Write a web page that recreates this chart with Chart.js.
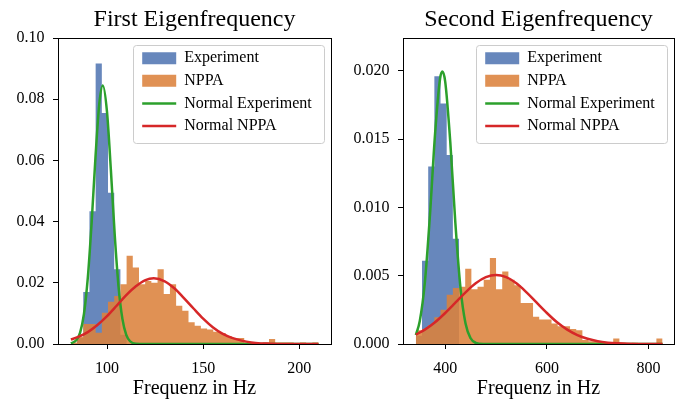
<!DOCTYPE html>
<html lang="de">
<head>
    <meta charset="UTF-8">
    <title>Eigenfrequenzen</title>
    <script src="https://cdn.jsdelivr.net/npm/chart.js"></script>
    <style>
        html, body { margin: 0; padding: 0; background: #fff; }
        body { width: 685px; height: 405px; position: relative; overflow: hidden; }
        .panel { position: absolute; top: 0; height: 405px; }
        #p1 { left: 0; width: 342px; }
        #p2 { left: 342px; width: 343px; }
    </style>
</head>
<body>
    <div class="panel" id="p1"><canvas id="c1" width="342" height="405"></canvas></div>
    <div class="panel" id="p2"><canvas id="c2" width="343" height="405"></canvas></div>
    <script>
        // Histogramm-Klassen (40 gleich breite Klassen, Hz)
        const bins1Start = 81.2, bins1Width = 3.22;
        const bins2Start = 342.3, bins2Width = 12.13;

        // Dichte je Klasse, erste Eigenfrequenz
        const exp1 = [0, 0.002, 0.017, 0.0434, 0.0917, 0.0755, 0.0494, 0.0244, 0.003, 0,
                      0, 0, 0, 0, 0, 0, 0, 0, 0, 0,
                      0, 0, 0, 0, 0, 0, 0, 0, 0, 0,
                      0, 0, 0, 0, 0, 0, 0, 0, 0, 0];
        const nppa1 = [0.0005, 0.0023, 0.0065, 0.0065, 0.0037, 0.0102, 0.0138, 0.0157, 0.0195, 0.0288,
                       0.025, 0.0195, 0.0206, 0.020, 0.0244, 0.0163, 0.0195, 0.0125, 0.0109, 0.0071,
                       0.006, 0.0051, 0.0047, 0.004, 0.0036, 0.0025, 0.002, 0.002, 0.0005, 0.0005,
                       0, 0.0005, 0.0016, 0.0005, 0.0005, 0.0005, 0, 0.0005, 0, 0.0005];

        // Dichte je Klasse, zweite Eigenfrequenz
        const exp2 = [0.0006, 0.0061, 0.013, 0.0196, 0.0176, 0.01384, 0.0077, 0, 0, 0,
                      0, 0, 0, 0, 0, 0, 0, 0, 0, 0,
                      0, 0, 0, 0, 0, 0, 0, 0, 0, 0,
                      0, 0, 0, 0, 0, 0, 0, 0, 0, 0];
        const nppa2 = [0.001, 0.0011, 0.0014, 0.00195, 0.0025, 0.0036, 0.0041, 0.0042, 0.0055, 0.0040,
                       0.0042, 0.0047, 0.0063, 0.0040, 0.0053, 0.0047, 0.0043, 0.0030, 0.0030, 0.0020,
                       0.0018, 0.0018, 0.0015, 0.0013, 0.0013, 0.0011, 0.0010, 0.0003, 0.0002, 0.0002,
                       0.0001, 0.0001, 0.0004, 0.0001, 0, 0.0001, 0, 0, 0, 0.0004];

        // Normalverteilungen
        const normExp1X = [81.2, 84, 86, 88, 90, 92, 94, 96, 97.8, 100, 102, 104, 106, 108, 110, 112, 115, 120, 130, 150, 180, 210];
        const normExp1Y = [0.0002, 0.0012, 0.0037, 0.0098, 0.0216, 0.0397, 0.0611, 0.0786, 0.0845, 0.0758, 0.0569, 0.0357, 0.0187, 0.0082, 0.0030, 0.0009, 0.0001, 0, 0, 0, 0, 0];
        const normNppa1X = [81.2, 85, 90, 95, 100, 105, 110, 115, 120, 124.3, 130, 135, 140, 145, 150, 155, 160, 165, 170, 175, 180, 185, 190, 200, 210];
        const normNppa1Y = [0.00146, 0.0023, 0.0039, 0.0062, 0.0091, 0.0125, 0.0160, 0.0189, 0.0209, 0.02145, 0.0205, 0.0182, 0.0150, 0.0116, 0.0083, 0.0055, 0.0034, 0.0020, 0.0011, 0.0005, 0.0002, 0.0001, 0, 0, 0];

        const normExp2X = [342.3, 350, 360, 370, 380, 390, 394.5, 400, 410, 420, 430, 440, 450, 460, 475, 500, 600, 700, 827.5];
        const normExp2Y = [0.00066, 0.00168, 0.00451, 0.00942, 0.01534, 0.01945, 0.01995, 0.01921, 0.01478, 0.00885, 0.00413, 0.0015, 0.00042, 0.00009, 0, 0, 0, 0, 0];
        const normNppa2X = [342.3, 360, 380, 400, 420, 440, 460, 480, 500, 520, 540, 560, 580, 600, 620, 640, 660, 680, 700, 720, 740, 760, 790, 827.5];
        const normNppa2Y = [0.00069, 0.00105, 0.00159, 0.00227, 0.00302, 0.00378, 0.00444, 0.00489, 0.00505, 0.00489, 0.00444, 0.00378, 0.00302, 0.00227, 0.00159, 0.00105, 0.00065, 0.00038, 0.0002, 0.0001, 0.00005, 0.00002, 0, 0];

        const serif = "'Liberation Serif', 'Times New Roman', serif";
        Chart.defaults.font.family = serif;
        Chart.defaults.color = '#000';

        const BLUE = 'rgba(76, 114, 176, 0.85)';
        const ORANGE = 'rgba(220, 130, 60, 0.88)';
        const GREEN = '#2ca02c';
        const RED = '#d62728';

        // Treppenlinie über die Klassengrenzen, gefüllt bis zur Nulllinie
        function histo(start, width, values) {
            const pts = values.map((v, k) => ({ x: start + width * k, y: v }));
            pts.push({ x: start + width * values.length, y: values[values.length - 1] });
            return pts;
        }
        function curve(xs, ys) {
            return xs.map((x, i) => ({ x: x, y: ys[i] }));
        }

        // Legendenrahmen wie bei matplotlib, rechts oben im Diagramm
        function legendFrame(a) {
            return { x: a.right - 7 - 191, y: a.top + 7, w: 191, h: 98 };
        }

        const axesPlugin = {
            id: 'axesFrame',
            afterUpdate(chart) {
                const lg = chart.legend;
                const f = legendFrame(chart.chartArea);
                lg.left = f.x + 2.6;
                lg.right = f.x + f.w;
                lg.width = lg.right - lg.left;
                lg.top = f.y - 1.4;
                lg.bottom = f.y + f.h;
                lg.height = lg.bottom - lg.top;
                lg.adjustHitBoxes();
            },
            beforeDraw(chart) {
                const ctx = chart.ctx;
                const f = legendFrame(chart.chartArea);
                ctx.save();
                ctx.beginPath();
                ctx.roundRect(Math.round(f.x) + 0.5, Math.round(f.y) + 0.5, f.w, f.h, 3);
                ctx.fillStyle = 'rgba(255,255,255,0.8)';
                ctx.fill();
                ctx.strokeStyle = '#cccccc';
                ctx.lineWidth = 1;
                ctx.stroke();
                ctx.restore();
            },
            afterDatasetsDraw(chart) {
                const ctx = chart.ctx, a = chart.chartArea;
                ctx.save();
                ctx.strokeStyle = '#000';
                ctx.lineWidth = 1;
                ctx.strokeRect(Math.round(a.left) + 0.5, Math.round(a.top) + 0.5,
                    Math.round(a.right) - Math.round(a.left), Math.round(a.bottom) - Math.round(a.top));
                ctx.restore();
            }
        };

        function histSet(label, data, color, order) {
            return {
                type: 'line', label: label, data: data, stepped: 'before',
                fill: 'origin', backgroundColor: color, borderColor: 'rgba(0,0,0,0)', borderWidth: 0,
                pointRadius: 0, pointStyle: 'rect', pointBackgroundColor: color, pointBorderWidth: 0,
                order: order
            };
        }
        function lineSet(label, data, color, order) {
            return {
                type: 'line', label: label, data: data, borderColor: color, borderWidth: 2.5,
                pointRadius: 0, pointStyle: 'line', pointBorderColor: color, pointBorderWidth: 2.5,
                cubicInterpolationMode: 'monotone', fill: false, order: order
            };
        }

        function makeChart(id, cfg) {
            const ctx = document.getElementById(id).getContext('2d');
            return new Chart(ctx, {
                type: 'line',
                data: {
                    datasets: [
                        histSet('Experiment', histo(cfg.start, cfg.width, cfg.exp), BLUE, 4),
                        histSet('NPPA', histo(cfg.start, cfg.width, cfg.nppa), ORANGE, 3),
                        lineSet('Normal Experiment', curve(cfg.gx, cfg.gy), GREEN, 2),
                        lineSet('Normal NPPA', curve(cfg.rx, cfg.ry), RED, 1)
                    ]
                },
                options: {
                    responsive: false,
                    animation: false,
                    events: [],
                    layout: { padding: { left: 0, right: 11, top: 0, bottom: 0 } },
                    plugins: {
                        title: {
                            display: true, text: cfg.title, fullSize: false, color: '#000',
                            font: { size: 24, weight: 'normal', family: serif },
                            padding: { top: 5, bottom: 4.2 }
                        },
                        legend: {
                            position: 'chartArea', align: 'start',
                            labels: {
                                usePointStyle: true, pointStyleWidth: 34, boxHeight: 12, padding: 6.6,
                                color: '#000', font: { size: 16, family: serif },
                                sort: (a, b) => a.datasetIndex - b.datasetIndex
                            }
                        },
                        tooltip: { enabled: false }
                    },
                    scales: {
                        x: {
                            type: 'linear', min: cfg.xmin, max: cfg.xmax, offset: false,
                            afterFit: s => { s.height = 61; },
                            border: { display: false },
                            grid: { display: true, offset: false, drawOnChartArea: false, drawTicks: true,
                                    tickLength: 5, tickColor: '#000', tickWidth: 1 },
                            ticks: { stepSize: cfg.xstep, includeBounds: false, maxRotation: 0, autoSkip: false,
                                     padding: 10, color: '#000', font: { size: 16 } },
                            title: { display: true, text: 'Frequenz in Hz', color: '#000',
                                     font: { size: 20 }, padding: { top: 0, bottom: 4 } }
                        },
                        y: {
                            min: 0, max: cfg.ymax,
                            afterFit: s => { s.width = cfg.yw; },
                            border: { display: false },
                            grid: { display: true, drawOnChartArea: false, drawTicks: true,
                                    tickLength: 5, tickColor: '#000', tickWidth: 1 },
                            ticks: { stepSize: cfg.ystep, includeBounds: false, padding: 8.5, color: '#000',
                                     font: { size: 16 }, callback: v => v.toFixed(cfg.digits) }
                        }
                    }
                },
                plugins: [axesPlugin]
            });
        }

        makeChart('c1', {
            title: 'First Eigenfrequency', start: bins1Start, width: bins1Width,
            exp: exp1, nppa: nppa1, gx: normExp1X, gy: normExp1Y, rx: normNppa1X, ry: normNppa1Y,
            xmin: 74.5, xmax: 216.5, xstep: 50, ymax: 0.10, ystep: 0.02, digits: 2, yw: 58
        });
        makeChart('c2', {
            title: 'Second Eigenfrequency', start: bins2Start, width: bins2Width,
            exp: exp2, nppa: nppa2, gx: normExp2X, gy: normExp2Y, rx: normNppa2X, ry: normNppa2Y,
            xmin: 317, xmax: 850, xstep: 200, ymax: 0.0224, ystep: 0.005, digits: 3, yw: 61
        });
    </script>
</body>
</html>
